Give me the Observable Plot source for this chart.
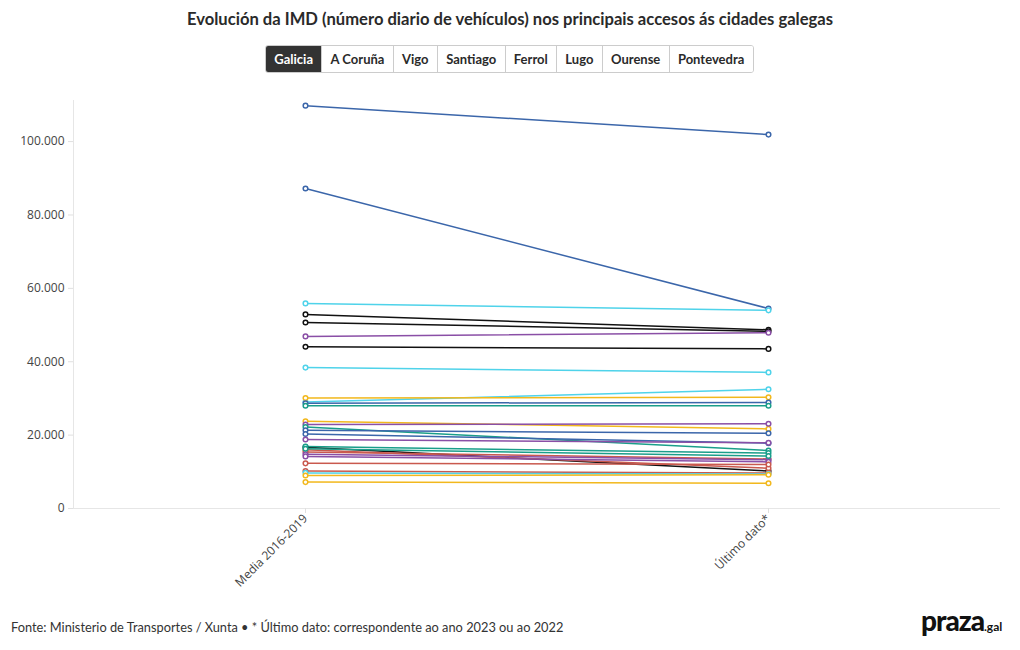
<!DOCTYPE html>
<html>
<head>
<meta charset="utf-8">
<script src="https://cdn.jsdelivr.net/npm/d3@7"></script>
<script src="https://cdn.jsdelivr.net/npm/@observablehq/plot@0.6"></script>
<style>
  html, body { margin:0; padding:0; background:#fff; width:1020px; height:650px; overflow:hidden; }
  #title { position:absolute; left:0; top:9px; width:1020px; text-align:center; font:700 16.6px Lato, sans-serif; color:#2a2a2a; }
  #buttons { position:absolute; left:265px; top:45px; display:flex; height:26px; border:1px solid #ccc; border-radius:3px; overflow:hidden; }
  #buttons div { padding:0 8.3px; font:700 13px Lato, sans-serif; color:#2a2a2a; line-height:26px; border-left:1px solid #ccc; background:#fff; }
  #buttons div:first-child { border-left:none; background:#333; color:#fff; }
  #chart { position:absolute; left:0; top:80px; }
  #chart svg { font-family:"Open Sans", sans-serif; }
  #chart g[aria-label="y-axis tick"] path, #chart g[aria-label="x-axis tick"] path { stroke:#e0e0e0; }
  #chart g[aria-label="y-axis tick label"], #chart g[aria-label="x-axis tick label"] { fill:#444; font-size:12px; }
  #footer { position:absolute; left:11px; top:619px; font:400 12.8px Lato, sans-serif; color:#333; }
  #logo { position:absolute; left:921px; top:603px; font:900 28px Lato, sans-serif; color:#111; letter-spacing:-1px; }
  #logo span { font-size:12px; font-weight:700; letter-spacing:0; }
</style>
</head>
<body>
<div id="title">Evolución da IMD (número diario de vehículos) nos principais accesos ás cidades galegas</div>
<div id="buttons"></div>
<div id="chart"></div>
<div id="footer">Fonte: Ministerio de Transportes / Xunta • * Último dato: correspondente ao ano 2023 ou ao 2022</div>
<div id="logo">praza<span>.gal</span></div>
<script>
const buttonLabels = ["Galicia", "A Coruña", "Vigo", "Santiago", "Ferrol", "Lugo", "Ourense", "Pontevedra"];
const periods = ["Media 2016-2019", "Último dato*"];
const cities = ["A Coruña", "Vigo", "Santiago", "Ferrol", "Lugo", "Ourense", "Pontevedra"];
const cityColors = ["#3b66aa", "#4fd3ea", "#111111", "#8a4fa6", "#f2b81d", "#1a9e8a", "#c9594e"];
const yTicks = [0, 20000, 40000, 60000, 80000, 100000];

// one entry per access road
const roadCity = [
  "A Coruña", "A Coruña", "Vigo", "Santiago", "Santiago", "Ferrol", "Santiago", "Vigo", "Vigo", "Lugo",
  "A Coruña", "Ourense", "Lugo", "Ferrol", "Ourense", "A Coruña", "A Coruña", "Ferrol", "Santiago", "Ourense",
  "Pontevedra", "Pontevedra", "Ferrol", "Ferrol", "Ourense", "Pontevedra", "Pontevedra", "Vigo", "Lugo", "Lugo"
];
const media2016_2019 = [
  109800, 87200, 55900, 52900, 50700, 46900, 44100, 38400, 29000, 30100,
  28700, 28000, 23800, 22900, 22200, 21300, 20300, 18800, 16700, 16900,
  16000, 15400, 14800, 14200, 16300, 12300, 10200, 9700, 9000, 7200
];
const ultimoDato = [
  101900, 54500, 54000, 48700, 48300, 47900, 43500, 37100, 32500, 30300,
  28900, 28000, 21700, 23100, 15800, 20500, 17800, 17900, 10200, 15100,
  11000, 13500, 13300, 12700, 14300, 12000, 9700, 9400, 9200, 6900
];

const btn = document.getElementById("buttons");
buttonLabels.forEach(l => { const d = document.createElement("div"); d.textContent = l; btn.appendChild(d); });

const rows = [];
roadCity.forEach((c, i) => {
  rows.push({id: i, city: c, period: periods[0], value: media2016_2019[i]});
  rows.push({id: i, city: c, period: periods[1], value: ultimoDato[i]});
});

const fmt = d => d3.format(",")(d).replace(/,/g, ".");

const chart = Plot.plot({
  width: 1020,
  height: 525,
  marginTop: 20,
  marginBottom: 97,
  marginLeft: 73,
  marginRight: 20,
  x: {type: "point", domain: periods, padding: 0.5, label: null},
  y: {domain: [0, 111200], label: null},
  color: {domain: cities, range: cityColors},
  marks: [
    Plot.frame({anchor: "left", stroke: "#e6e6e6"}),
    Plot.ruleY([0], {stroke: "#e6e6e6"}),
    Plot.axisY({ticks: yTicks, tickFormat: fmt, tickSize: 5, tickPadding: 4, label: null}),
    Plot.axisX({tickRotate: -45, tickSize: 5, tickPadding: 3, label: null}),
    Plot.line(rows, {x: "period", y: "value", z: "id", stroke: "city", strokeWidth: 1.5}),
    Plot.dot(rows, {x: "period", y: "value", stroke: "city", fill: "white", r: 2.3, strokeWidth: 1.5})
  ]
});
document.getElementById("chart").appendChild(chart);
</script>
</body>
</html>
